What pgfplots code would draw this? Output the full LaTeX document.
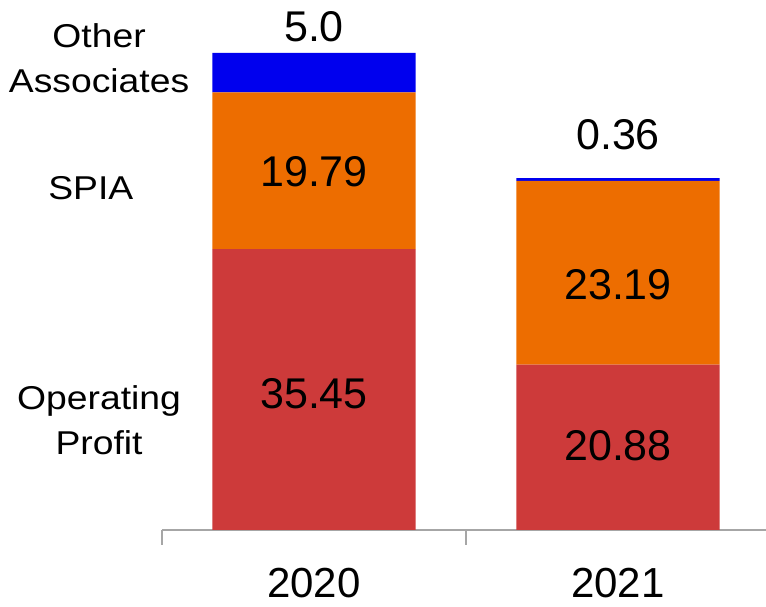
\documentclass[border=0pt]{standalone}
\usepackage{pgfplots}
\pgfplotsset{compat=1.18}
\usepackage{fontspec}
\setmainfont{Liberation Sans}
\newfontfamily\catfont[FakeStretch=1.13]{Liberation Sans}
\definecolor{opred}{HTML}{CD3A3A}
\definecolor{spiaor}{HTML}{ED6D00}
\definecolor{othblue}{HTML}{0000EE}
\definecolor{axgray}{HTML}{A6A6A6}
\tikzset{vallab/.style={font=\fontsize{43}{48}\selectfont, anchor=center},
  catlab/.style={font=\catfont\fontsize{33}{45}\selectfont, align=center, anchor=center}}
\begin{document}
\begin{tikzpicture}
\begin{axis}[
  scale only axis, width=608pt, height=530pt,
  xmin=-0.5, xmax=1.5, ymin=0, ymax=66.92,
  ybar stacked, bar width=0.668,
  clip=false,
  hide y axis,
  axis x line*=bottom,
  x axis line style={axgray, line width=1.2pt},
  xtick={0,1}, xticklabels={2020,2021},
  major tick length=0pt,
  minor xtick={-0.5,0.5,1.5},
  minor tick length=15pt,
  tick align=outside,
  minor tick style={axgray, line width=1.2pt},
  xticklabel style={font=\fontsize{42}{48}\selectfont, anchor=base, yshift=-68pt},
]
\addplot[fill=opred, draw=none] coordinates {(0,35.45) (1,20.88)};
\addplot[fill=spiaor, draw=none] coordinates {(0,19.79) (1,23.19)};
\addplot[fill=othblue, draw=none] coordinates {(0,5.0) (1,0.36)};
\coordinate (v1) at (axis cs:0,63.5);
\coordinate (v2) at (axis cs:0,45.2);
\coordinate (v3) at (axis cs:0,17.17);
\coordinate (v4) at (axis cs:1,49.9);
\coordinate (v5) at (axis cs:1,31.0);
\coordinate (v6) at (axis cs:1,10.7);
\coordinate (c1) at (axis cs:-0.707,59.6);
\coordinate (c2) at (axis cs:-0.734,43.2);
\coordinate (c3) at (axis cs:-0.707,13.9);
\end{axis}
\node[vallab] at (v1) {5.0};
\node[vallab] at (v2) {19.79};
\node[vallab] at (v3) {35.45};
\node[vallab] at (v4) {0.36};
\node[vallab] at (v5) {23.19};
\node[vallab] at (v6) {20.88};
\node[catlab] at (c1) {Other\\Associates};
\node[catlab] at (c2) {SPIA};
\node[catlab] at (c3) {Operating\\Profit};
\pgfresetboundingbox
\path[use as bounding box] (-162pt,-77pt) rectangle (604pt,530pt);
\end{tikzpicture}
\end{document}
